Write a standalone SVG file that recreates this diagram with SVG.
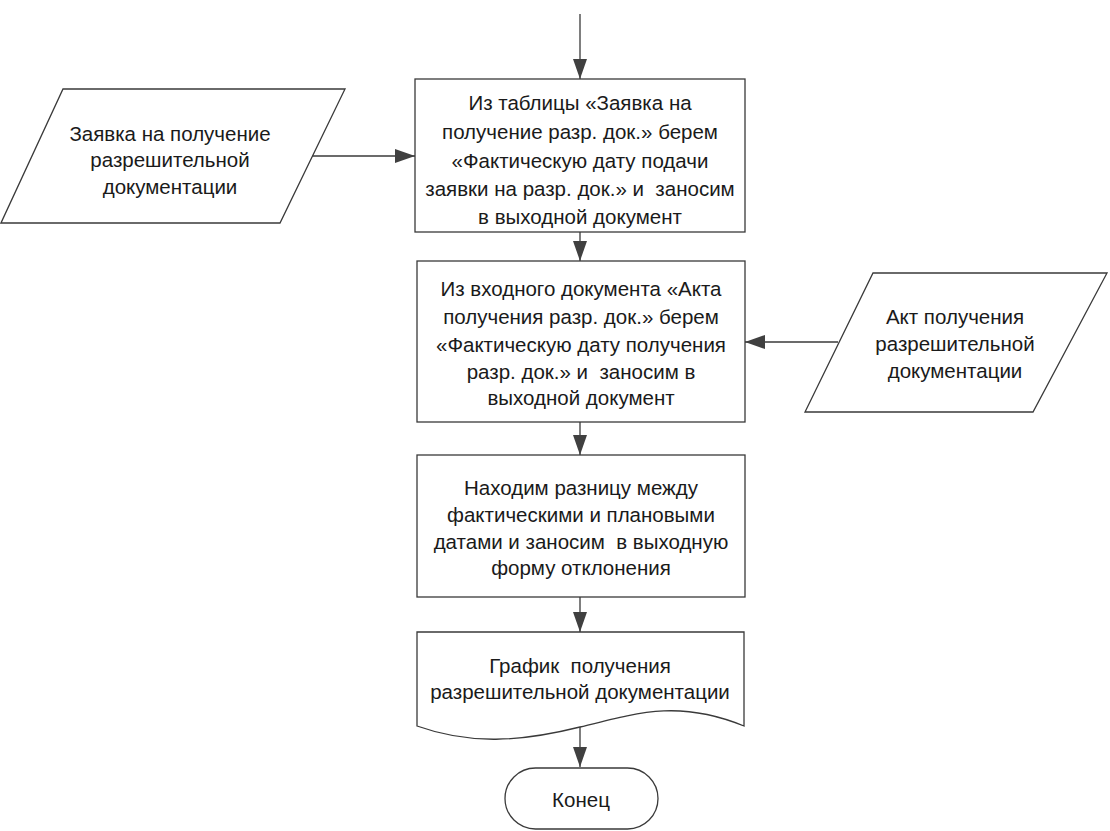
<svg xmlns="http://www.w3.org/2000/svg" width="1110" height="831" viewBox="0 0 1110 831">
<defs>
<marker id="arr" markerWidth="20" markerHeight="14" refX="20" refY="7" orient="auto" markerUnits="userSpaceOnUse">
<path d="M0,0 L20,7 L0,14 Z" fill="#404040"/>
</marker>
<style>
.shape{fill:#ffffff;stroke:#3a3a3a;stroke-width:1.3}
.conn{fill:none;stroke:#3a3a3a;stroke-width:1.3;marker-end:url(#arr)}
text{font-family:"Liberation Sans","Noto Sans",sans-serif;font-size:20.5px;fill:#1a1a1a;text-anchor:middle;dominant-baseline:central;white-space:pre}
</style>
</defs>
<rect width="1110" height="831" fill="#ffffff"/>
<g id="connectors">
<path class="conn" d="M580,14 L580,79"/>
<path class="conn" d="M312,156 L415,156"/>
<path class="conn" d="M580,232 L580,261"/>
<path class="conn" d="M838,342 L745,342"/>
<path class="conn" d="M580,422 L580,455"/>
<path class="conn" d="M580,597 L580,632"/>
<path class="conn" d="M580,727 L580,767"/>
</g>
<g id="input1">
<polygon class="shape" points="63,89 345,89 280,223 1,223"/>
<text x="170" y="133">Заявка на получение</text>
<text x="170" y="159">разрешительной</text>
<text x="170" y="186">документации</text>
</g>
<g id="step1">
<rect class="shape" x="415" y="79" width="330" height="153"/>
<text x="580" y="102">Из таблицы «Заявка на</text>
<text x="580" y="131">получение разр. док.» берем</text>
<text x="580" y="160">«Фактическую дату подачи</text>
<text x="580" y="188" xml:space="preserve">заявки на разр. док.» и  заносим</text>
<text x="580" y="216">в выходной документ</text>
</g>
<g id="input2">
<polygon class="shape" points="873,273 1107,273 1033,412 805,412"/>
<text x="955" y="316">Акт получения</text>
<text x="955" y="343">разрешительной</text>
<text x="955" y="370">документации</text>
</g>
<g id="step2">
<rect class="shape" x="417" y="261" width="328" height="161"/>
<text x="581" y="288">Из входного документа «Акта</text>
<text x="581" y="316">получения разр. док.» берем</text>
<text x="581" y="344">«Фактическую дату получения</text>
<text x="581" y="371" xml:space="preserve">разр. док.» и  заносим в</text>
<text x="581" y="397">выходной документ</text>
</g>
<g id="step3">
<rect class="shape" x="417" y="455" width="328" height="142"/>
<text x="581" y="487">Находим разницу между</text>
<text x="581" y="514">фактическими и плановыми</text>
<text x="581" y="541" xml:space="preserve">датами и заносим  в выходную</text>
<text x="581" y="567">форму отклонения</text>
</g>
<g id="document">
<path class="shape" d="M417,632 L744,632 L744,726 C680,700 640,712 580,727 C520,742 470,745 417,726 Z"/>
<text x="580" y="665" xml:space="preserve">График  получения</text>
<text x="580" y="691">разрешительной документации</text>
</g>
<g id="end">
<rect class="shape" x="505" y="768" width="153" height="61" rx="30.5" ry="30.5"/>
<text x="581" y="799">Конец</text>
</g>
</svg>
